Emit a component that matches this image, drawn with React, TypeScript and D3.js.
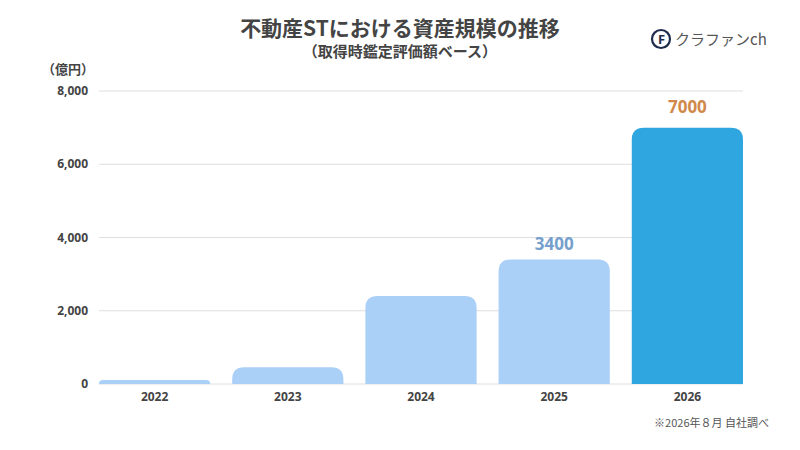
import React, { useEffect, useRef } from 'react';
import * as d3 from 'd3';

const years = ['2022', '2023', '2024', '2025', '2026'];
const assets = [110, 460, 2400, 3400, 7000];
const yTicks = [0, 2000, 4000, 6000, 8000];
const labelled = ['2025', '2026'];

const App: React.FC = () => {
  const svgRef = useRef<SVGSVGElement>(null);

  useEffect(() => {
    document.body.style.margin = '0';
    if (!svgRef.current) return;

    const svg = d3.select(svgRef.current);
    svg.selectAll('*').remove();

    const width = 800;
    const height = 450;
    const font = "'Noto Sans CJK JP', 'Noto Sans', sans-serif";
    const numFont = "'Open Sans', 'Noto Sans', sans-serif";

    svg.append('rect').attr('width', width).attr('height', height).attr('fill', '#fff');

    const x = d3.scaleBand<string>()
      .domain(years)
      .range([99, 743])
      .paddingInner(0.165)
      .paddingOuter(0);

    const y = d3.scaleLinear()
      .domain([0, 8000])
      .range([384, 91]);

    // gridlines
    svg.append('g')
      .selectAll('line')
      .data(yTicks)
      .join('line')
      .attr('x1', 99)
      .attr('x2', 743)
      .attr('y1', d => y(d))
      .attr('y2', d => y(d))
      .attr('stroke', '#dedede')
      .attr('stroke-width', 1);

    svg.append('g')
      .selectAll('text')
      .data(yTicks)
      .join('text')
      .attr('x', 88)
      .attr('y', d => y(d) + 4)
      .attr('text-anchor', 'end')
      .attr('font-family', numFont)
      .attr('font-weight', 700)
      .attr('font-size', 12)
      .attr('fill', '#444')
      .text(d => d3.format(',')(d));

    svg.append('text')
      .attr('x', 68)
      .attr('y', 74)
      .attr('text-anchor', 'middle')
      .attr('font-family', font)
      .attr('font-weight', 700)
      .attr('font-size', 13)
      .attr('fill', '#444')
      .text('（億円）');

    // bars with rounded top corners
    const r = 12;
    const barPath = (x0: number, w: number, top: number, bottom: number) => {
      const h = bottom - top;
      const rr = Math.min(r, h, w / 2);
      return `M${x0},${bottom} L${x0},${top + rr} Q${x0},${top} ${x0 + rr},${top} ` +
        `L${x0 + w - rr},${top} Q${x0 + w},${top} ${x0 + w},${top + rr} L${x0 + w},${bottom} Z`;
    };

    svg.append('g')
      .selectAll('path')
      .data(years)
      .join('path')
      .attr('d', (d, i) => barPath(x(d)!, x.bandwidth(), y(assets[i]), y(0)))
      .attr('fill', d => (d === '2026' ? '#2fa6df' : '#abd0f8'));

    // value labels
    svg.append('g')
      .selectAll('text')
      .data(years.filter(d => labelled.includes(d)))
      .join('text')
      .attr('x', d => x(d)! + x.bandwidth() / 2)
      .attr('y', d => y(assets[years.indexOf(d)]) - (d === '2026' ? 15 : 9))
      .attr('text-anchor', 'middle')
      .attr('font-family', numFont)
      .attr('font-weight', 700)
      .attr('font-size', 17)
      .attr('fill', d => (d === '2026' ? '#d0894b' : '#759fcc'))
      .text(d => String(assets[years.indexOf(d)]));

    // x labels
    svg.append('g')
      .selectAll('text')
      .data(years)
      .join('text')
      .attr('x', d => x(d)! + x.bandwidth() / 2)
      .attr('y', 401)
      .attr('text-anchor', 'middle')
      .attr('font-family', numFont)
      .attr('font-weight', 700)
      .attr('font-size', 12)
      .attr('fill', '#444')
      .text(d => d);

    // titles
    svg.append('text')
      .attr('x', 400)
      .attr('y', 36)
      .attr('text-anchor', 'middle')
      .attr('font-family', font)
      .attr('font-weight', 700)
      .attr('font-size', 21)
      .attr('fill', '#444')
      .text('不動産STにおける資産規模の推移');

    svg.append('text')
      .attr('x', 400)
      .attr('y', 57)
      .attr('text-anchor', 'middle')
      .attr('font-family', font)
      .attr('font-weight', 700)
      .attr('font-size', 15)
      .attr('fill', '#444')
      .text('（取得時鑑定評価額ベース）');

    // logo
    const logo = svg.append('g').attr('transform', 'translate(661,39)');
    logo.append('circle')
      .attr('r', 9)
      .attr('fill', 'none')
      .attr('stroke', '#1f2b4d')
      .attr('stroke-width', 2.2);
    logo.append('text')
      .attr('x', 0.5)
      .attr('y', 5)
      .attr('text-anchor', 'middle')
      .attr('font-family', numFont)
      .attr('font-weight', 700)
      .attr('font-size', 13)
      .attr('fill', '#1f2b4d')
      .text('F');
    logo.append('text')
      .attr('x', 14)
      .attr('y', 6)
      .attr('font-family', font)
      .attr('font-size', 15)
      .attr('fill', '#555')
      .text('クラファンch');

    svg.append('text')
      .attr('x', 769)
      .attr('y', 427)
      .attr('text-anchor', 'end')
      .attr('font-family', font)
      .attr('font-size', 11)
      .attr('fill', '#555')
      .text('※2026年８月 自社調べ');
  }, []);

  return <svg ref={svgRef} width={800} height={450} style={{ display: 'block' }} />;
};

export default App;
